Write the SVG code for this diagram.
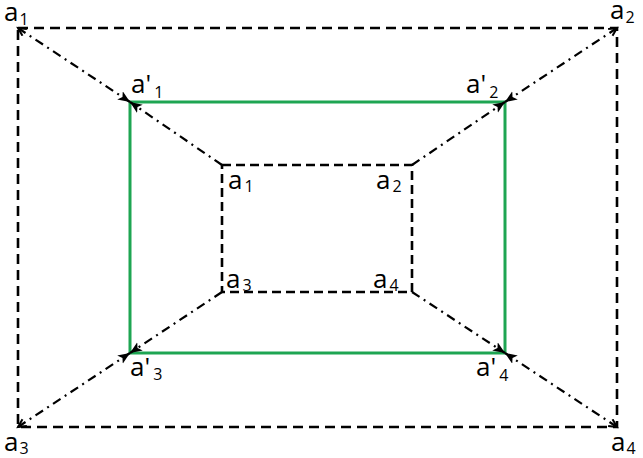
<svg xmlns="http://www.w3.org/2000/svg" width="643" height="458" viewBox="0 0 643 458">
<defs>
<style>
.dash{fill:none;stroke:#000;stroke-width:2.6;stroke-dasharray:10 6}
.idash{fill:none;stroke:#000;stroke-width:2.6;stroke-dasharray:9 5}
.green{fill:none;stroke:#1ea552;stroke-width:3}
.dd{fill:none;stroke:#000;stroke-width:2.2;stroke-dasharray:9 5 2 5}
.lbl{font-family:"Open Sans","Liberation Sans",sans-serif;font-size:26px;fill:#000}
.sub{font-size:16px}
</style>
<marker id="ah" markerUnits="userSpaceOnUse" markerWidth="14" markerHeight="12" refX="12" refY="5" orient="auto">
<path d="M0,0 L12,5 L0,10 L3,5 Z" fill="#000"/>
</marker>
<marker id="oh" markerUnits="userSpaceOnUse" markerWidth="12" markerHeight="12" refX="9" refY="5" orient="auto-start-reverse">
<path d="M1,1 L9,5 L1,9" fill="none" stroke="#000" stroke-width="2"/>
</marker>
</defs>
<g id="outer-rect"><rect class="dash" x="18" y="28" width="599" height="399"/></g>
<g id="inner-rect"><rect class="idash" x="222" y="165" width="190" height="127"/></g>
<g id="green-rect"><rect class="green" x="130" y="102" width="375" height="251"/></g>
<g id="connectors">
<line class="dd" x1="18" y1="28" x2="130" y2="102" marker-start="url(#oh)" marker-end="url(#ah)"/>
<line class="dd" x1="617" y1="28" x2="505" y2="102" marker-start="url(#oh)" marker-end="url(#ah)"/>
<line class="dd" x1="18" y1="427" x2="130" y2="353" marker-start="url(#oh)" marker-end="url(#ah)"/>
<line class="dd" x1="617" y1="427" x2="505" y2="353" marker-start="url(#oh)" marker-end="url(#ah)"/>
<line class="dd" x1="222" y1="165" x2="130" y2="102" marker-end="url(#ah)"/>
<line class="dd" x1="412" y1="165" x2="505" y2="102" marker-end="url(#ah)"/>
<line class="dd" x1="222" y1="292" x2="130" y2="353" marker-end="url(#ah)"/>
<line class="dd" x1="412" y1="292" x2="505" y2="353" marker-end="url(#ah)"/>
</g>
<g id="label-outer-a1"><text class="lbl" x="4" y="21">a<tspan class="sub" dx="1" dy="4">1</tspan></text></g>
<g id="label-outer-a2"><text class="lbl" x="610" y="19">a<tspan class="sub" dx="1" dy="4">2</tspan></text></g>
<g id="label-outer-a3"><text class="lbl" x="4" y="451">a<tspan class="sub" dx="1" dy="3">3</tspan></text></g>
<g id="label-outer-a4"><text class="lbl" x="611" y="451">a<tspan class="sub" dx="1" dy="3">4</tspan></text></g>
<g id="label-p1"><text class="lbl" x="131" y="93">a'<tspan class="sub" dx="3" dy="5">1</tspan></text></g>
<g id="label-p2"><text class="lbl" x="466" y="93">a'<tspan class="sub" dx="3" dy="5">2</tspan></text></g>
<g id="label-p3"><text class="lbl" x="130" y="376">a'<tspan class="sub" dx="3" dy="4">3</tspan></text></g>
<g id="label-p4"><text class="lbl" x="476" y="376">a'<tspan class="sub" dx="3" dy="5">4</tspan></text></g>
<g id="label-inner-a1"><text class="lbl" x="228" y="189">a<tspan class="sub" dx="2" dy="3">1</tspan></text></g>
<g id="label-inner-a2"><text class="lbl" x="376" y="189">a<tspan class="sub" dx="2" dy="3">2</tspan></text></g>
<g id="label-inner-a3"><text class="lbl" x="226" y="288">a<tspan class="sub" dx="2" dy="3">3</tspan></text></g>
<g id="label-inner-a4"><text class="lbl" x="373" y="288">a<tspan class="sub" dx="2" dy="3">4</tspan></text></g>
</svg>
